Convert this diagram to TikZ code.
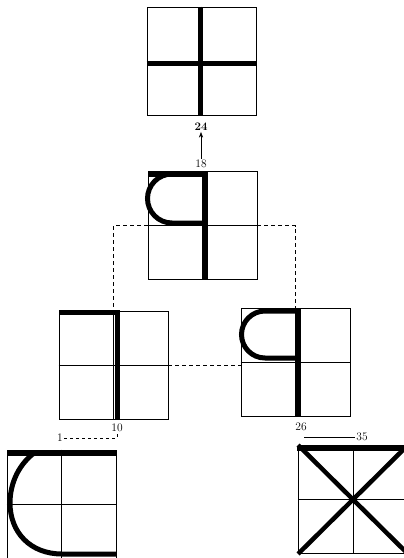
\documentclass[tikz,border=0pt]{standalone}
\usepackage{tikz}
\usetikzlibrary{arrows.meta}
\tikzset{
  cell/.style={draw, line width=0.8pt, minimum width=109pt, minimum height=108pt, inner sep=0pt},
  stroke/.style={line width=5pt},
  num/.style={font=\fontsize{11.5}{13}\selectfont, inner sep=1pt},
}

\begin{document}
\begin{tikzpicture}[x=1pt, y=-1pt, >=Stealth]
\useasboundingbox (0,0) rectangle (404,558);
\clip (0,0) rectangle (404,558);
% boxes
\node[cell] (b24) at (201.5,61) {};
\node[cell] (b18) at (202.5,225.5) {};
\node[cell] (b10) at (113.5,365) {};
\node[cell] (b26) at (295.5,362.5) {};
\node[cell] (b1) at (61.5,504) {};
\node[cell] (b35) at (353,499.5) {};
\foreach \b in {b24,b18,b10,b26,b1,b35}{
  \draw[line width=0.6pt] (\b.north) -- (\b.south);
  \draw[line width=0.6pt] (\b.west) -- (\b.east);
}
% strokes
\draw[stroke] (200,7) -- (200,115);
\draw[stroke] (147,63) -- (256,63);
\draw[stroke] (205.5,172) -- (205.5,279);
\draw[stroke] (148,174) -- (205.5,174);
\draw[stroke] (172,174) arc[start angle=270, end angle=90, radius=24.5] -- (205.5,223);
\draw[stroke] (59,312) -- (117,312);
\draw[stroke] (117,310) -- (117,420);
\draw[stroke] (298.5,308) -- (298.5,417);
\draw[stroke] (298.5,311) -- (265,311) arc[start angle=270, end angle=90, radius=23.5] -- (298.5,358);
\draw[stroke] (7,453) -- (116,453);
\draw[stroke] (34,453) .. controls (16,467) and (10,487) .. (10,503)
  .. controls (10,532) and (30,554) .. (62,554) -- (116,554);
\draw[stroke] (297,448) -- (409,448);
\draw[stroke, line width=4.5pt] (b35.north west) -- (b35.south east);
\draw[stroke, line width=4.5pt] (b35.north east) -- (b35.south west);
% links
\draw[dash pattern=on 4pt off 3pt, line width=0.6pt] (b18.west) -| (b10.north);
\draw[dash pattern=on 4pt off 3pt, line width=0.6pt] (b18.east) -| (b26.north);
\draw[dash pattern=on 4pt off 3pt, line width=0.6pt] (b10.east) -- (b10.east -| b26.west);
% labels
\node[num, font=\fontsize{11.5}{13}\selectfont\bfseries] (l24) at (201,127) {24};
\node[num] (l18) at (201,164) {18};
\draw[->, line width=0.6pt] (l18) -- (l24);
\node[num] (l10) at (117,428) {10};
\node[num] (l1) at (60,438) {1};
\draw[dash pattern=on 3pt off 3pt, line width=0.6pt] (l1.east) -| (l10.south);
\node[num] (l26) at (301,427) {26};
\node[num] (l35) at (362,437) {35};
\draw[line width=0.6pt] ([xshift=3pt]l26.south |- l35) -- (l35.west);
\end{tikzpicture}
\end{document}
